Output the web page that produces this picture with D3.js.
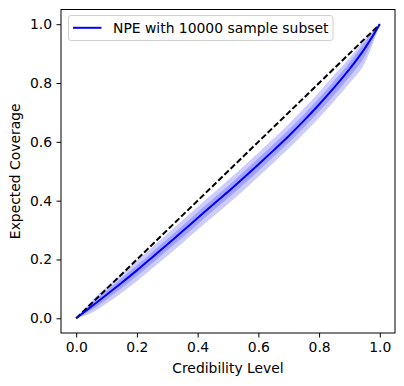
<!DOCTYPE html>
<html>
<head>
<meta charset="utf-8">
<script src="https://cdn.jsdelivr.net/npm/d3@7"></script>
<style>
  html, body { margin: 0; padding: 0; background: #fff; }
  svg { display: block; font-family: 'DejaVu Sans', sans-serif; }
</style>
</head>
<body>
<div id="chart"></div>
<script>
// Credibility levels and expected coverage (mean + two bands)
const LEVELS = [0, 0.05, 0.1, 0.15, 0.2, 0.25, 0.3, 0.35, 0.4, 0.45, 0.5,
  0.55, 0.6, 0.65, 0.7, 0.75, 0.8, 0.85, 0.9, 0.95, 1.0];
const COVERAGE = [0, .040, .080, .121, .163, .207, .251, .296, .341, .386, .430,
  .476, .523, .571, .620, .672, .727, .785, .847, .917, 1.0];
const INNER_LO = [0, .028, .064, .103, .144, .187, .231, .275, .320, .365, .409,
  .454, .501, .549, .598, .649, .703, .760, .821, .890, 1.0];
const INNER_HI = [0, .050, .094, .137, .180, .225, .270, .315, .361, .406, .450,
  .497, .544, .592, .641, .694, .749, .808, .870, .939, 1.0];
const OUTER_LO = [0, .018, .050, .087, .126, .169, .212, .256, .301, .345, .389,
  .434, .481, .529, .577, .628, .682, .739, .799, .867, 1.0];
const OUTER_HI = [0, .058, .106, .151, .196, .242, .287, .333, .379, .424, .469,
  .515, .563, .611, .661, .714, .769, .828, .885, .948, 1.0];
const DIAGONAL = [0, 1];
const TICKS = [0, 0.2, 0.4, 0.6, 0.8, 1.0];
const LEGEND_LABEL = 'NPE with 10000 sample subset';

const W = 404, H = 386;
const MARGIN = { top: 9.5, right: 9, bottom: 53, left: 61 };
const FONT = 13.9;

const svg = d3.select('#chart').append('svg').attr('width', W).attr('height', H);
svg.append('rect').attr('width', W).attr('height', H).attr('fill', '#fff');

const x = d3.scaleLinear().domain([-0.05, 1.05]).range([MARGIN.left, W - MARGIN.right]);
const y = d3.scaleLinear().domain([-0.05, 1.05]).range([H - MARGIN.bottom, MARGIN.top]);

const pts = LEVELS.map((l, i) => ({
  l, m: COVERAGE[i], il: INNER_LO[i], ih: INNER_HI[i], ol: OUTER_LO[i], oh: OUTER_HI[i]
}));

const plot = svg.append('g');

const outerArea = d3.area().curve(d3.curveMonotoneX)
  .x((d) => x(d.l)).y0((d) => y(d.ol)).y1((d) => y(d.oh));
const innerArea = d3.area().curve(d3.curveMonotoneX)
  .x((d) => x(d.l)).y0((d) => y(d.il)).y1((d) => y(d.ih));

plot.append('path').datum(pts).attr('d', outerArea)
  .attr('fill', 'blue').attr('fill-opacity', 0.2);
plot.append('path').datum(pts).attr('d', innerArea)
  .attr('fill', 'blue').attr('fill-opacity', 0.2);

plot.append('line')
  .attr('x1', x(DIAGONAL[0])).attr('y1', y(DIAGONAL[0]))
  .attr('x2', x(DIAGONAL[1])).attr('y2', y(DIAGONAL[1]))
  .attr('stroke', '#000').attr('stroke-width', 2)
  .attr('stroke-dasharray', '6,2.6');

plot.append('path').datum(pts)
  .attr('d', d3.line().curve(d3.curveMonotoneX).x((d) => x(d.l)).y((d) => y(d.m)))
  .attr('fill', 'none').attr('stroke', 'blue').attr('stroke-width', 2);

// axes
const xAxis = svg.append('g')
  .attr('transform', `translate(0,${H - MARGIN.bottom})`)
  .call(d3.axisBottom(x).tickValues(TICKS).tickFormat(d3.format('.1f')).tickSize(4.5).tickPadding(4.5));
const yAxis = svg.append('g')
  .attr('transform', `translate(${MARGIN.left},0)`)
  .call(d3.axisLeft(y).tickValues(TICKS).tickFormat(d3.format('.1f')).tickSize(4.5).tickPadding(4.5));
[xAxis, yAxis].forEach((a) => {
  a.select('.domain').remove();
  a.selectAll('.tick line').attr('stroke', '#000').attr('stroke-width', 1);
  a.selectAll('.tick text').attr('fill', '#000').attr('font-size', FONT)
    .attr('font-family', "'DejaVu Sans', sans-serif");
});

svg.append('rect')
  .attr('x', MARGIN.left).attr('y', MARGIN.top)
  .attr('width', W - MARGIN.left - MARGIN.right)
  .attr('height', H - MARGIN.top - MARGIN.bottom)
  .attr('fill', 'none').attr('stroke', '#000').attr('stroke-width', 1);

svg.append('text')
  .attr('x', (MARGIN.left + W - MARGIN.right) / 2).attr('y', 373)
  .attr('text-anchor', 'middle').attr('font-size', FONT).attr('fill', '#000')
  .text('Credibility Level');

svg.append('text')
  .attr('transform', `translate(20,${(MARGIN.top + H - MARGIN.bottom) / 2}) rotate(-90)`)
  .attr('text-anchor', 'middle').attr('font-size', FONT).attr('fill', '#000')
  .text('Expected Coverage');

// legend
const lg = svg.append('g');
lg.append('rect')
  .attr('x', 68.5).attr('y', 15.5).attr('width', 264.5).attr('height', 25)
  .attr('rx', 2.5).attr('fill', '#fff').attr('fill-opacity', 0.8)
  .attr('stroke', '#d0d0d0').attr('stroke-width', 1);
lg.append('line')
  .attr('x1', 73).attr('x2', 101.5).attr('y1', 27.8).attr('y2', 27.8)
  .attr('stroke', 'blue').attr('stroke-width', 2);
lg.append('text')
  .attr('x', 113).attr('y', 27.8).attr('dy', '0.36em')
  .attr('font-size', FONT).attr('fill', '#000')
  .text(LEGEND_LABEL);
</script>
</body>
</html>
